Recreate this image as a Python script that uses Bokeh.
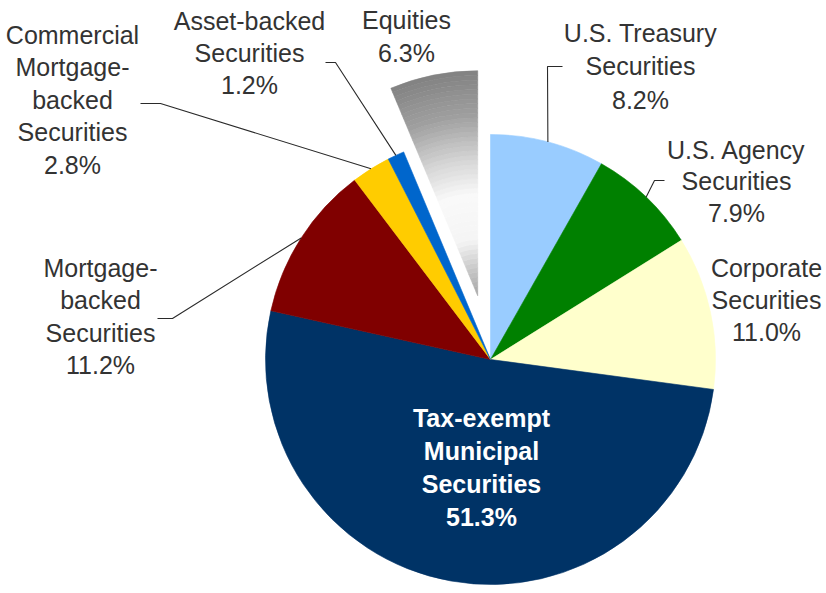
import numpy as np
from bokeh.plotting import figure
from bokeh.models import Range1d
from bokeh.embed import file_html
from bokeh.resources import INLINE
from bokeh.core.properties import value

# ---------------- data ----------------
categories = ["U.S. Treasury Securities", "U.S. Agency Securities", "Corporate Securities",
              "Tax-exempt Municipal Securities", "Mortgage-backed Securities",
              "Commercial Mortgage-backed Securities", "Asset-backed Securities", "Equities"]
values = [8.2, 7.9, 11.0, 51.3, 11.2, 2.8, 1.2, 6.3]
label_names = ["U.S. Treasury\nSecurities", "U.S. Agency\nSecurities", "Corporate\nSecurities",
               "Tax-exempt\nMunicipal\nSecurities", "Mortgage-\nbacked\nSecurities",
               "Commercial\nMortgage-\nbacked\nSecurities", "Asset-backed\nSecurities", "Equities"]
colors = ["#99ccff", "#008000", "#ffffcc", "#003366", "#800000", "#ffcc00", "#0066cc", "gradient"]
exploded = [False, False, False, False, False, False, False, True]

# ---------------- layout ----------------
W, H = 826, 593
def X(x): return x
def Y(y): return H - y

CX, CY, R = X(490), Y(359), 225
EXPLODE = 65

# label layout: (center x, first line y, line spacing) in page pixels
label_layout = [(640, 32, 33.5), (736, 149, 31.5), (766, 267, 32), (481, 417, 33),
                (100, 267, 32.5), (72, 34, 32.5), (249, 20, 32), (406, 19, 33)]
label_color = ["#333333"] * 3 + ["#ffffff"] + ["#333333"] * 4
label_bold = [False, False, False, True, False, False, False, False]
# leader lines: elbow points (page px) before reaching the slice edge
leaders = {0: [(562, 66), (547, 66)], 1: [(664, 180), (654, 180)],
           4: [(157, 318), (172, 318)], 5: [(140, 103), (160, 103)],
           6: [(325, 62), (335, 62)]}

p = figure(width=W, height=H, x_range=Range1d(0, W), y_range=Range1d(0, H),
           output_backend="svg", toolbar_location=None, min_border=0,
           x_axis_type=None, y_axis_type=None)
p.grid.visible = False
p.outline_line_color = None
p.background_fill_color = "white"
p.border_fill_color = "white"

total = sum(values)
cum = np.concatenate([[0], np.cumsum(values)]) / total * 2 * np.pi  # clockwise from top

for i, v in enumerate(values):
    t0, t1 = cum[i], cum[i + 1]
    mid = (t0 + t1) / 2
    cx, cy = CX, CY
    if exploded[i]:
        cx += EXPLODE * np.sin(mid)
        cy += EXPLODE * np.cos(mid)
    sa, ea = np.pi / 2 - t0, np.pi / 2 - t1
    if colors[i] == "gradient":
        n = 48
        edges = np.linspace(0, R, n + 1)
        tt = (edges[:-1] + edges[1:]) / 2 / R
        lv = np.interp(tt, [0.0, 0.12, 0.25, 0.45, 0.62, 0.8, 1.0],
                       [165, 200, 245, 250, 210, 160, 130])
        cols = ["#%02x%02x%02x" % (int(g), int(g), int(g)) for g in lv]
        p.annular_wedge(x=[cx] * n, y=[cy] * n, inner_radius=list(edges[:-1]),
                        outer_radius=list(edges[1:]), start_angle=sa, end_angle=ea,
                        direction="clock", fill_color=cols, line_color=cols, line_width=0.6)
    else:
        p.wedge(x=cx, y=cy, radius=R, start_angle=sa, end_angle=ea, direction="clock",
                fill_color=colors[i], line_color=colors[i], line_width=0.6)

# leader lines
for i, pts in leaders.items():
    mid = (cum[i] + cum[i + 1]) / 2
    ex, ey = CX + R * np.sin(mid), CY + R * np.cos(mid)
    xs = [X(a) for a, b in pts] + [ex]
    ys = [Y(b) for a, b in pts] + [ey]
    p.line(xs, ys, line_color="#2a2a2a", line_width=1.1)

# labels
for i, v in enumerate(values):
    lines = label_names[i].split("\n") + ["%.1f%%" % v]
    lx, by, sp = label_layout[i]
    xs = [X(lx)] * len(lines)
    ys = [Y(by + k * sp) for k in range(len(lines))]
    p.text(x=xs, y=ys, text=lines, text_align="center", text_baseline="alphabetic",
           text_font=value("Liberation Sans"), text_font_size="25px",
           text_font_style="bold" if label_bold[i] else "normal",
           text_color=label_color[i])

open("out.html", "w").write(file_html(p, INLINE))
